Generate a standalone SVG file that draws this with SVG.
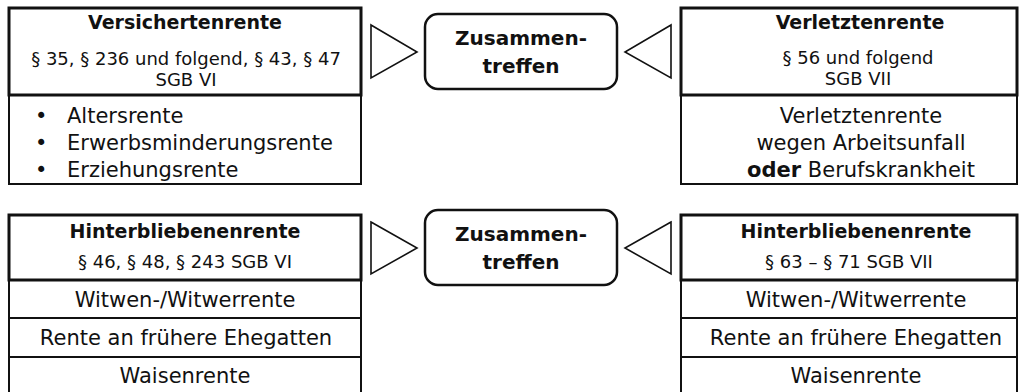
<svg xmlns="http://www.w3.org/2000/svg" width="1019" height="392" viewBox="0 0 1019 392">
<style>
.t{font-family:"DejaVu Sans","Liberation Sans",sans-serif;fill:#111;text-anchor:middle}
.h{font-size:19px;font-weight:bold}
.s{font-size:18px}
.b{font-size:21px}
.z{font-size:20px;font-weight:bold}
.hd{fill:#fff;stroke:#111;stroke-width:3}
.bd{fill:#fff;stroke:#111;stroke-width:2}
.tri{fill:#fff;stroke:#111;stroke-width:1.6;stroke-linejoin:miter}
.rr{fill:#fff;stroke:#111;stroke-width:2.5}
</style>
<g id="versichertenrente">
<rect class="bd" x="9" y="95" width="352" height="89"/>
<rect class="hd" x="9" y="8" width="352" height="87"/>
<text class="t h" x="185" y="29">Versichertenrente</text>
<text class="t s" x="186" y="65">§ 35, § 236 und folgend, § 43, § 47</text>
<text class="t s" x="186" y="86">SGB VI</text>
<g class="t b" style="text-anchor:start">
<text x="35" y="123">•</text><text x="67" y="123">Altersrente</text>
<text x="35" y="150">•</text><text x="67" y="150">Erwerbsminderungsrente</text>
<text x="35" y="177">•</text><text x="67" y="177">Erziehungsrente</text>
</g>
</g>
<g id="zusammentreffen1">
<rect class="rr" x="425" y="14" width="192" height="75" rx="13"/>
<text class="t z" x="521" y="45">Zusammen-</text>
<text class="t z" x="521" y="73">treffen</text>
</g>
<g id="verletztenrente">
<rect class="bd" x="681" y="95" width="336" height="89"/>
<rect class="hd" x="681" y="8" width="336" height="87"/>
<text class="t h" x="860" y="29">Verletztenrente</text>
<text class="t s" x="858" y="64">§ 56 und folgend</text>
<text class="t s" x="858" y="85">SGB VII</text>
<text class="t b" x="861" y="123">Verletztenrente</text>
<text class="t b" x="861" y="150">wegen Arbeitsunfall</text>
<text class="t b" x="861" y="177"><tspan font-weight="bold">oder</tspan> Berufskrankheit</text>
</g>
<g id="hinterbliebenenrente-sgb6">
<rect class="bd" x="9" y="280" width="352" height="38"/>
<rect class="bd" x="9" y="318" width="352" height="39"/>
<rect class="bd" x="9" y="357" width="352" height="40"/>
<rect class="hd" x="9" y="215" width="352" height="65"/>
<text class="t h" x="185" y="238">Hinterbliebenenrente</text>
<text class="t s" x="185" y="268">§ 46, § 48, § 243 SGB VI</text>
<text class="t b" x="185" y="307">Witwen-/Witwerrente</text>
<text class="t b" x="186" y="345">Rente an frühere Ehegatten</text>
<text class="t b" x="185" y="383">Waisenrente</text>
</g>
<g id="zusammentreffen2">
<rect class="rr" x="425" y="210" width="192" height="75" rx="13"/>
<text class="t z" x="521" y="241">Zusammen-</text>
<text class="t z" x="521" y="269">treffen</text>
</g>
<g id="hinterbliebenenrente-sgb7">
<rect class="bd" x="681" y="280" width="336" height="38"/>
<rect class="bd" x="681" y="318" width="336" height="39"/>
<rect class="bd" x="681" y="357" width="336" height="40"/>
<rect class="hd" x="681" y="215" width="336" height="65"/>
<text class="t h" x="856" y="238">Hinterbliebenenrente</text>
<text class="t s" x="849" y="268">§ 63 –  § 71 SGB VII</text>
<text class="t b" x="856" y="307">Witwen-/Witwerrente</text>
<text class="t b" x="856" y="345">Rente an frühere Ehegatten</text>
<text class="t b" x="856" y="383">Waisenrente</text>
</g>
<g id="connectors">
<polygon class="tri" points="371,25 417,52 371,78"/>
<polygon class="tri" points="671,25 625,52 671,78"/>
<polygon class="tri" points="371,222 417,248 371,274"/>
<polygon class="tri" points="671,222 625,248 671,274"/>
</g>
</svg>
